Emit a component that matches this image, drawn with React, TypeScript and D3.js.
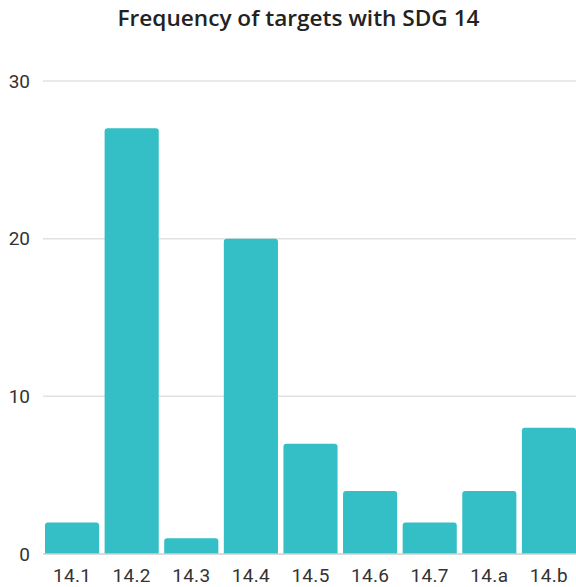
import React from "react";
import * as d3 from "d3";

const categories = ["14.1", "14.2", "14.3", "14.4", "14.5", "14.6", "14.7", "14.a", "14.b"];
const frequencies = [2, 27, 1, 20, 7, 4, 2, 4, 8];
const yTicks = [0, 10, 20, 30];
const title = "Frequency of targets with SDG 14";

const W = 576;
const H = 587;

function topRoundedRect(x: number, y: number, w: number, h: number, r: number) {
  const rr = Math.min(r, h, w / 2);
  return `M${x},${y + h}V${y + rr}Q${x},${y} ${x + rr},${y}H${x + w - rr}Q${x + w},${y} ${x + w},${y + rr}V${y + h}Z`;
}

export default function App() {
  const x = d3.scaleBand<string>().domain(categories).range([45, 576]).paddingInner(0.092).paddingOuter(0);
  const y = d3.scaleLinear().domain([0, 30]).range([554, 81]);

  return (
    <svg width={W} height={H} style={{ position: "absolute", left: 0, top: 0, background: "#fff" }}>
      <text
        x={298.5}
        y={26}
        textAnchor="middle"
        fontFamily="'Open Sans', sans-serif"
        fontWeight={600}
        fontSize={21.5}
        textLength={362}
        lengthAdjust="spacingAndGlyphs"
        fill="#222"
      >
        {title}
      </text>
      {yTicks.map((t) => (
        <g key={t}>
          {t !== 0 && (
            <line x1={43} x2={576} y1={y(t)} y2={y(t)} stroke="#e2e2e2" strokeWidth={1.5} />
          )}
          <text
            x={30}
            y={y(t)}
            dy="0.35em"
            textAnchor="end"
            fontFamily="Roboto, sans-serif"
            fontSize={19}
            fill="#333"
          >
            {t}
          </text>
        </g>
      ))}
      {categories.map((c, i) => (
        <path
          key={c}
          d={topRoundedRect(x(c)!, y(frequencies[i]), x.bandwidth(), y(0) - y(frequencies[i]), 3)}
          fill="#33bfc5"
        />
      ))}
      <line x1={43} x2={576} y1={y(0)} y2={y(0)} stroke="#cfcfcf" strokeWidth={1.5} />
      {categories.map((c) => (
        <text
          key={c}
          x={x(c)! + x.bandwidth() / 2}
          y={575}
          dy="0.35em"
          textAnchor="middle"
          fontFamily="Roboto, sans-serif"
          fontSize={19}
          letterSpacing={0.3}
          fill="#333"
        >
          {c}
        </text>
      ))}
    </svg>
  );
}
